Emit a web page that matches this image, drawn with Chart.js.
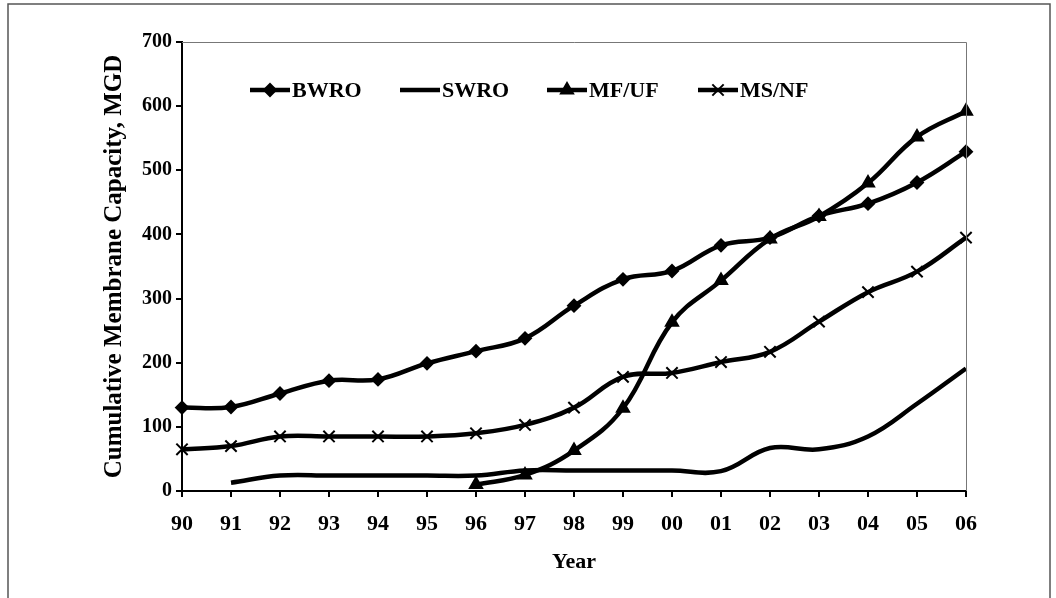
<!DOCTYPE html>
<html>
<head>
<meta charset="utf-8">
<script src="https://cdn.jsdelivr.net/npm/chart.js@4"></script>
<style>
  body { margin: 0; background: #fff; }
  canvas { display: block; }
</style>
</head>
<body>
<canvas id="capChart" width="1056" height="598"></canvas>
<script>
const years = ['90', '91', '92', '93', '94', '95', '96', '97', '98', '99', '00', '01', '02', '03', '04', '05', '06'];
const bwro = [130, 131, 152, 172, 174, 199, 218, 238, 289, 330, 343, 383, 395, 429, 448, 481, 529];
const swro = [null, 13, 24, 24, 24, 24, 24, 32, 32, 32, 32, 31, 67, 65, 85, 136, 191];
const mfuf = [null, null, null, null, null, null, 10, 25, 63, 129, 263, 328, 393, 428, 480, 552, 592];
const msnf = [65, 70, 85, 85, 85, 85, 90, 103, 130, 178, 184, 201, 217, 264, 310, 342, 395];

const FONT = "'Liberation Serif', 'Times New Roman', serif";

// legend entries drawn inside the plot, like the original figure
const legendItems = [
  { label: 'BWRO', x: 250, style: 'rectRot', radius: 6 },
  { label: 'SWRO', x: 400, style: false, radius: 0 },
  { label: 'MF/UF', x: 547, style: 'triangle', radius: 7 },
  { label: 'MS/NF', x: 698, style: 'crossRot', radius: 8 }
];

const framePlugin = {
  id: 'frame',
  beforeDraw(chart) {
    const ctx = chart.ctx;
    ctx.save();
    ctx.fillStyle = '#fff';
    ctx.fillRect(0, 0, chart.width, chart.height);
    ctx.strokeStyle = '#555';
    ctx.lineWidth = 1.5;
    ctx.beginPath();
    ctx.moveTo(8, 600);
    ctx.lineTo(8, 4);
    ctx.lineTo(1050, 4);
    ctx.lineTo(1050, 600);
    ctx.stroke();
    ctx.restore();
  },
  afterDraw(chart) {
    const ctx = chart.ctx;
    const a = chart.chartArea;
    ctx.save();
    ctx.strokeStyle = '#777';
    ctx.lineWidth = 1;
    ctx.beginPath();
    ctx.moveTo(a.left, a.top + 0.5);
    ctx.lineTo(a.right + 0.5, a.top + 0.5);
    ctx.lineTo(a.right + 0.5, a.bottom);
    ctx.stroke();

    const y = 90;
    legendItems.forEach(item => {
      ctx.strokeStyle = '#000';
      ctx.lineWidth = 4.5;
      ctx.beginPath();
      ctx.moveTo(item.x, y);
      ctx.lineTo(item.x + 40, y);
      ctx.stroke();
      if (item.style) {
        ctx.fillStyle = '#000';
        ctx.lineWidth = 2;
        Chart.helpers.drawPoint(ctx, { pointStyle: item.style, radius: item.radius, borderWidth: 2, rotation: 0 }, item.x + 20, y);
      }
      ctx.fillStyle = '#000';
      ctx.font = 'bold 22px ' + FONT;
      ctx.textBaseline = 'middle';
      ctx.textAlign = 'left';
      ctx.fillText(item.label, item.x + 42, y + 1);
    });
    ctx.restore();
  }
};

function makeSet(label, data, style, radius) {
  return {
    label: label,
    data: data,
    borderColor: '#000',
    backgroundColor: '#000',
    borderWidth: 4.5,
    tension: 0.4,
    pointStyle: style,
    pointRadius: radius,
    pointBorderWidth: 2,
    pointBackgroundColor: '#000',
    pointBorderColor: '#000',
    spanGaps: false
  };
}

const ctx = document.getElementById('capChart').getContext('2d');
new Chart(ctx, {
  type: 'line',
  data: {
    labels: years,
    datasets: [
      makeSet('BWRO', bwro, 'rectRot', 6),
      makeSet('SWRO', swro, false, 0),
      makeSet('MF/UF', mfuf, 'triangle', 7),
      makeSet('MS/NF', msnf, 'crossRot', 8)
    ]
  },
  options: {
    responsive: false,
    animation: false,
    layout: { padding: { left: 96, top: 42, right: 90, bottom: 20 } },
    plugins: {
      legend: { display: false },
      tooltip: { enabled: false }
    },
    scales: {
      x: {
        type: 'category',
        offset: false,
        afterFit(scale) { scale.height = 87; },
        grid: { display: true, drawOnChartArea: false, drawTicks: true, tickLength: 6, color: '#000', lineWidth: 2 },
        border: { display: true, color: '#000', width: 2 },
        ticks: { color: '#000', padding: 14, maxRotation: 0, autoSkip: false, font: { family: FONT, size: 22, weight: 'bold' } },
        title: { display: true, text: 'Year', color: '#000', padding: 2, font: { family: FONT, size: 22, weight: 'bold' } }
      },
      y: {
        min: 0,
        max: 700,
        afterFit(scale) { scale.width = 86; },
        grid: { display: true, drawOnChartArea: false, drawTicks: true, tickLength: 6, color: '#000', lineWidth: 2 },
        border: { display: true, color: '#000', width: 2 },
        ticks: { stepSize: 100, color: '#000', padding: 4, font: { family: FONT, size: 20, weight: 'bold' } },
        title: { display: true, text: 'Cumulative Membrane Capacity, MGD', color: '#000', padding: 4, font: { family: FONT, size: 25, weight: 'bold' } }
      }
    }
  },
  plugins: [framePlugin]
});
</script>
</body>
</html>
